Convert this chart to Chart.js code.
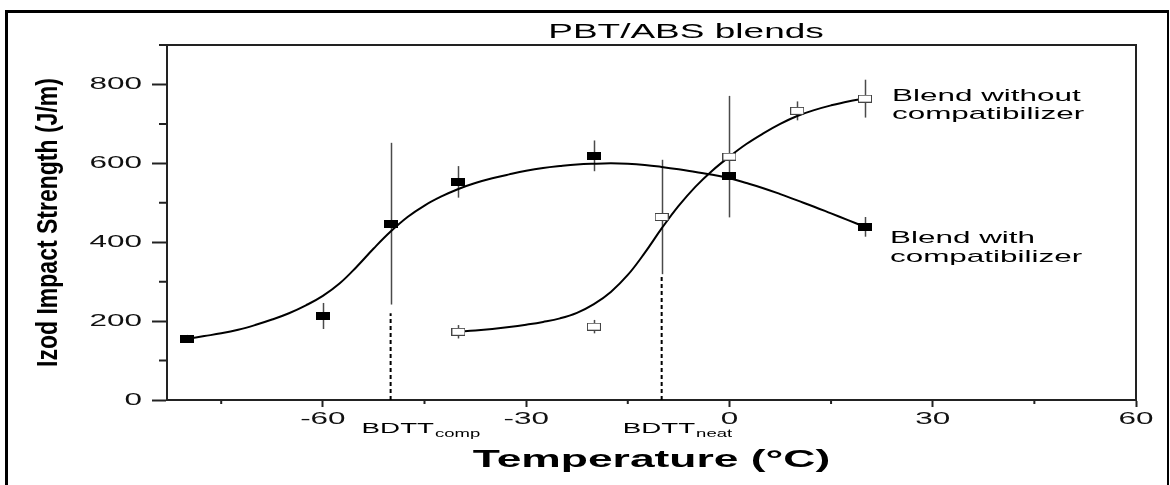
<!DOCTYPE html>
<html><head><meta charset="utf-8">
<script src="https://cdn.jsdelivr.net/npm/chart.js@4.4.1/dist/chart.umd.min.js"></script>
<style>
html,body{margin:0;padding:0;background:#fff;}
#wrap{position:relative;width:1170px;height:485px;overflow:hidden;background:#fff;}
#frame{position:absolute;left:5px;top:10px;width:1159px;height:500px;border-top:3px solid #000;border-left:3px solid #000;border-right:2px solid #000;}
canvas{position:absolute;left:0;top:0;}
</style></head><body>
<div id="wrap"><div id="frame"></div><canvas id="c" width="1170" height="485"></canvas></div>
<script>
// ---- data ----
const compatTemps  = [-80, -60, -50, -40, -20, 0, 20];
const compatImpact = [155, 213, 447, 553, 619, 568, 439];
const compatErr    = [10, 33, 205, 40, 39, 0, 25];

const neatTemps  = [-40, -20, -10, 0, 10, 20];
const neatImpact = [173, 186, 464, 617, 733, 764];
const neatErr    = [17, 17, 145, 154, 24, 48];

// fitted curves, read every 2.5 °C along the drawn lines
const compatCurveTemps  = [-80,-77.5,-75,-72.5,-70,-67.5,-65,-62.5,-60,-57.5,-55,-52.5,-50,-47.5,-45,-42.5,-40,-37.5,-35,-32.5,-30,-27.5,-25,-22.5,-20,-17.5,-15,-12.5,-10,-7.5,-5,-2.5,0,2.5,5,7.5,10,12.5,15,17.5,20];
const compatCurveImpact = [155,162,169,178,190,204,220,240,264,296,338,384,427,464,493,516,535,550,562,572,581,588,593,597,599,600,599,596,591,585,578,571,562,550,537,522,506,490,473,456,439];

const neatCurveTemps  = [-40,-37.5,-35,-32.5,-30,-27.5,-25,-22.5,-20,-17.5,-15,-12.5,-10,-7.5,-5,-2.5,0,2.5,5,7.5,10,12.5,15,17.5,20];
const neatCurveImpact = [173,176,180,185,191,198,207,221,243,274,317,373,435,492,541,582,617,649,676,700,720,735,747,757,764];

const bdttTemps = [-50, -10];
const bdttTop   = [220, 319];
const bdttSubs  = ['comp', 'neat'];

const xTickValues = [-60, -30, 0, 30, 60];
const yTickValues = [0, 200, 400, 600, 800];
const xMinorTicks = [-75, -45, -15, 15, 45];
const yMinorTicks = [100, 300, 500, 700, 900];

const TITLE = 'PBT/ABS blends';
const X_TITLE = 'Temperature (°C)';
const Y_TITLE = 'Izod Impact Strength (J/m)';
const LABEL_WITH = ['Blend with', 'compatibilizer'];
const LABEL_WITHOUT = ['Blend without', 'compatibilizer'];

// ---- rendering ----
const FONT = '"Liberation Sans", Arial, Helvetica, sans-serif';
const K = 1.85;   // horizontal stretch of upright text seen in the reference
const KR = 1.3;   // thickening of the rotated (vertical) title

const canvas = document.getElementById('c');
const ctx = canvas.getContext('2d');
const origFill = ctx.fillText.bind(ctx);
ctx.fillText = function (text, x, y, maxWidth) {
  const m = this.getTransform();
  const rotated = Math.abs(m.b) > 1e-6 || Math.abs(m.c) > 1e-6;
  this.save();
  this.translate(x, y);
  if (rotated) this.scale(1, KR); else this.scale(K, 1);
  origFill(text, 0, 0);
  this.restore();
};

function yTitleFont() {
  const m = document.createElement('canvas').getContext('2d');
  m.font = 'bold 100px monospace';
  const base = m.measureText(Y_TITLE).width;
  m.font = 'bold 100px "Liberation Sans Narrow", monospace';
  const narrow = m.measureText(Y_TITLE).width;
  const fam = Math.abs(narrow - base) > 0.5 ? '"Liberation Sans Narrow"' : FONT;
  m.font = 'bold 100px ' + fam;
  const w = m.measureText(Y_TITLE).width;
  return { family: fam, size: Math.round(100 * 289 / w), weight: 'bold' };
}
const yTF = yTitleFont();

function boxMarker(fill, stroke) {
  const c = document.createElement('canvas');
  c.width = 14; c.height = 8;
  const g = c.getContext('2d');
  g.fillStyle = fill; g.fillRect(0.5, 0.5, 13, 7);
  g.strokeStyle = stroke; g.lineWidth = 1; g.strokeRect(0.5, 0.5, 13, 7);
  return c;
}
const blackBox = boxMarker('#000', '#000');
const openBox = boxMarker('#fff', '#444');

const pts = (xs, ys) => xs.map((t, i) => ({ x: t, y: ys[i] }));

const errorBars = {
  id: 'errorBars',
  beforeDatasetsDraw(chart) {
    const { ctx, scales: { x, y } } = chart;
    ctx.save();
    ctx.strokeStyle = '#4a4a4a';
    ctx.lineWidth = 1.5;
    const draw = (xs, ys, es) => xs.forEach((t, i) => {
      if (!es[i]) return;
      const px = Math.round(x.getPixelForValue(t)) + 0.5;
      ctx.beginPath();
      ctx.moveTo(px, y.getPixelForValue(ys[i] - es[i]));
      ctx.lineTo(px, y.getPixelForValue(ys[i] + es[i]));
      ctx.stroke();
    });
    draw(compatTemps, compatImpact, compatErr);
    draw(neatTemps, neatImpact, neatErr);
    ctx.restore();
  }
};

const frameAndMinor = {
  id: 'frameAndMinor',
  afterDraw(chart) {
    const { ctx, chartArea: a, scales: { x, y } } = chart;
    ctx.save();
    ctx.strokeStyle = '#222';
    ctx.lineWidth = 2;
    ctx.beginPath();
    ctx.moveTo(a.left, a.top); ctx.lineTo(a.right, a.top); ctx.lineTo(a.right, a.bottom);
    ctx.stroke();
    ctx.beginPath();
    yMinorTicks.forEach(v => { const py = y.getPixelForValue(v); ctx.moveTo(a.left - 8, py); ctx.lineTo(a.left, py); });
    xMinorTicks.forEach(v => { const px = x.getPixelForValue(v); ctx.moveTo(px, a.bottom); ctx.lineTo(px, a.bottom + 4); });
    ctx.stroke();
    ctx.restore();
  }
};

const texts = {
  id: 'texts',
  afterDraw(chart) {
    const { ctx, scales: { x, y } } = chart;
    ctx.save();
    ctx.fillStyle = '#000';
    // title
    ctx.font = '20px ' + FONT;
    ctx.textAlign = 'center';
    ctx.textBaseline = 'middle';
    ctx.fillText(TITLE, 686, 32);
    // curve labels
    ctx.textAlign = 'left';
    ctx.textBaseline = 'alphabetic';
    ctx.font = '17px ' + FONT;
    const lx = x.getPixelForValue(20) + 27;
    const yNo = y.getPixelForValue(neatImpact[neatImpact.length - 1]);
    ctx.fillText(LABEL_WITHOUT[0], lx, yNo + 2);
    ctx.fillText(LABEL_WITHOUT[1], lx, yNo + 20);
    const yW = y.getPixelForValue(compatImpact[compatImpact.length - 1]);
    ctx.fillText(LABEL_WITH[0], lx - 2, yW + 16);
    ctx.fillText(LABEL_WITH[1], lx - 2, yW + 35);
    // BDTT labels
    const shifts = [29, 39];
    bdttTemps.forEach((t, i) => {
      const bx = x.getPixelForValue(t) - shifts[i];
      ctx.font = '15px ' + FONT;
      ctx.fillText('BDTT', bx, 433);
      const w = ctx.measureText('BDTT').width * K;
      ctx.font = '10px ' + FONT;
      ctx.fillText(bdttSubs[i], bx + w + 1, 437);
    });
    ctx.restore();
  }
};

new Chart(ctx, {
  type: 'scatter',
  data: {
    datasets: [
      { label: 'Blend with compatibilizer', data: pts(compatTemps, compatImpact),
        pointStyle: blackBox, pointRadius: 7, showLine: false },
      { label: 'Blend without compatibilizer', data: pts(neatTemps, neatImpact),
        pointStyle: openBox, pointRadius: 7, showLine: false },
      { label: 'fit with', data: pts(compatCurveTemps, compatCurveImpact), showLine: true,
        borderColor: '#000', borderWidth: 2, pointRadius: 0, tension: 0.4, borderCapStyle: 'round', borderJoinStyle: 'round' },
      { label: 'fit without', data: pts(neatCurveTemps, neatCurveImpact), showLine: true,
        borderColor: '#000', borderWidth: 2, pointRadius: 0, tension: 0.4, borderCapStyle: 'round', borderJoinStyle: 'round' },
      ...bdttTemps.map((t, i) => ({
        label: 'BDTT ' + bdttSubs[i], data: [{ x: t, y: 0 }, { x: t, y: bdttTop[i] }], showLine: true,
        borderColor: '#000', borderWidth: 2, borderDash: [4, 3], pointRadius: 0
      }))
    ]
  },
  options: {
    responsive: false,
    animation: false,
    devicePixelRatio: 1,
    layout: { padding: { top: 45, right: 34, left: 0, bottom: 0 } },
    plugins: { legend: { display: false }, tooltip: { enabled: false }, title: { display: false } },
    scales: {
      x: {
        type: 'linear', min: -83, max: 60,
        afterBuildTicks: s => { s.ticks = xTickValues.map(v => ({ value: v })); },
        afterFit: s => { s.height = 85; },
        grid: { drawOnChartArea: false, drawTicks: true, tickLength: 7, tickWidth: 2, tickColor: '#222' },
        border: { display: true, color: '#222', width: 2 },
        ticks: { font: { family: FONT, size: 17 }, color: '#111', padding: 2, maxRotation: 0, autoSkip: false },
        title: { display: true, text: X_TITLE, color: '#000',
          font: { family: FONT, size: 24, weight: 'bold' }, padding: { top: 0, bottom: 10 } }
      },
      y: {
        type: 'linear', min: 0, max: 900,
        afterBuildTicks: s => { s.ticks = yTickValues.map(v => ({ value: v })); },
        afterFit: s => { s.width = 167; },
        grid: { drawOnChartArea: false, drawTicks: true, tickLength: 15, tickWidth: 2, tickColor: '#222' },
        border: { display: true, color: '#222', width: 2 },
        ticks: { font: { family: FONT, size: 17 }, color: '#111', padding: 10 },
        title: { display: true, text: Y_TITLE, color: '#000', font: yTF,
          padding: { top: Math.max(0, 49 - yTF.size * 0.6), bottom: 0 } }
      }
    }
  },
  plugins: [errorBars, frameAndMinor, texts]
});
</script>
</body></html>
